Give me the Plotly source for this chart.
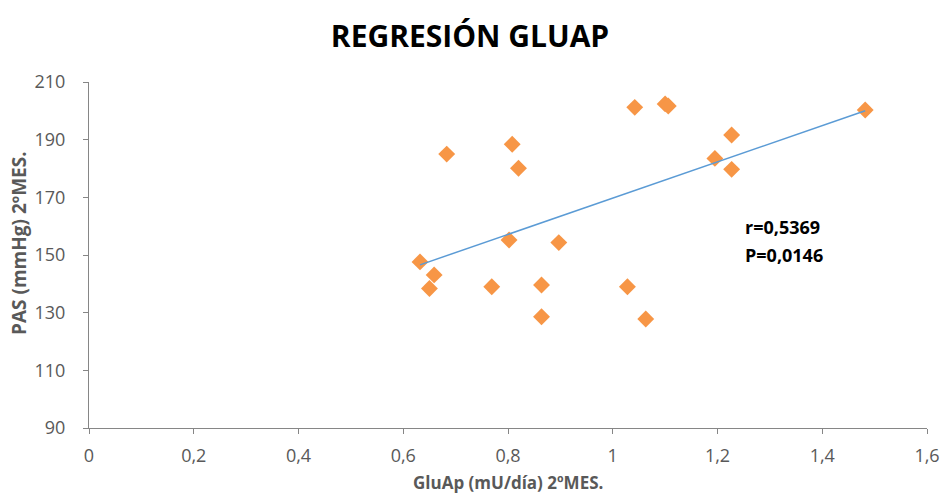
import numpy as np
import plotly.graph_objects as go

glu_ap = [0.632, 0.659, 0.650, 0.683, 0.769, 0.802, 0.808, 0.820, 0.864, 0.864,
          0.897, 1.028, 1.063, 1.042, 1.100, 1.106, 1.195, 1.227, 1.227, 1.482]
pas = [147.6, 143.1, 138.4, 185.0, 139.0, 155.2, 188.4, 180.1, 139.6, 128.6,
       154.3, 139.0, 127.8, 201.2, 202.4, 201.7, 183.5, 191.6, 179.7, 200.3]

x_tickvals = [0, 0.2, 0.4, 0.6, 0.8, 1.0, 1.2, 1.4, 1.6]
x_ticktext = ["0", "0,2", "0,4", "0,6", "0,8", "1", "1,2", "1,4", "1,6"]
y_tickvals = [90, 110, 130, 150, 170, 190, 210]
y_ticktext = ["90", "110", "130", "150", "170", "190", "210"]

stats_text = ["r=0,5369", "P=0,0146"]

# linear trendline (least squares) over the data range
slope, intercept = np.polyfit(glu_ap, pas, 1)
tx = [min(glu_ap), max(glu_ap)]
ty = [slope * v + intercept for v in tx]

font_family = "Open Sans, Liberation Sans, sans-serif"

fig = go.Figure()
fig.add_trace(go.Scatter(
    x=glu_ap, y=pas, mode="markers",
    marker=dict(symbol="diamond", size=13, color="#F79646",
                line=dict(width=0)),
    showlegend=False, hoverinfo="x+y"))
fig.add_trace(go.Scatter(
    x=tx, y=ty, mode="lines",
    line=dict(color="#5B9BD5", width=1.5),
    showlegend=False, hoverinfo="skip"))

fig.add_annotation(x=1.249, y=159.7, xref="x", yref="y", text=f"<b>{stats_text[0]}</b>",
                   showarrow=False, xanchor="left", yanchor="middle",
                   font=dict(family=font_family, size=18, color="#000000"))
fig.add_annotation(x=1.249, y=150, xref="x", yref="y", text=f"<b>{stats_text[1]}</b>",
                   showarrow=False, xanchor="left", yanchor="middle",
                   font=dict(family=font_family, size=18, color="#000000"))

# axis titles as annotations for precise placement
fig.add_annotation(x=0.5, y=-0.197, xref="paper", yref="paper",
                   text="<b>GluAp (mU/día) 2ºMES.</b>", showarrow=False,
                   xanchor="center", yanchor="bottom",
                   font=dict(family=font_family, size=17, color="#595959"))
fig.add_annotation(x=-0.0835, y=0.535, xref="paper", yref="paper",
                   text="<b>PAS (mmHg) 2ºMES.</b>", showarrow=False, textangle=-90,
                   xanchor="center", yanchor="middle",
                   font=dict(family=font_family, size=19, color="#595959"))

fig.update_layout(
    width=940, height=497,
    margin=dict(l=89, r=13, t=82, b=69),
    paper_bgcolor="white", plot_bgcolor="white",
    title=dict(text="<b>REGRESIÓN GLUAP</b>", x=0.5, xanchor="center",
               y=0.927, yanchor="middle",
               font=dict(family=font_family, size=30, color="#000000")),
    font=dict(family=font_family, color="#595959"),
    xaxis=dict(range=[0, 1.6], tickvals=x_tickvals, ticktext=x_ticktext,
               automargin=False,
               showgrid=False, zeroline=False, showline=True,
               linecolor="#868686", linewidth=1,
               ticks="outside", ticklen=5, tickcolor="#868686",
               ticklabelstandoff=6,
               tickfont=dict(size=18, color="#595959")),
    yaxis=dict(range=[90, 210], tickvals=y_tickvals, ticktext=y_ticktext,
               automargin=False,
               showgrid=False, zeroline=False, showline=True,
               linecolor="#868686", linewidth=1,
               ticks="outside", ticklen=5, tickcolor="#868686",
               ticklabelstandoff=14,
               tickfont=dict(size=18, color="#595959")),
)

fig.write_html(
    "out.html",
    config={"displayModeBar": False},
    post_script="document.body.style.margin='0';document.body.style.overflow='hidden';",
)
